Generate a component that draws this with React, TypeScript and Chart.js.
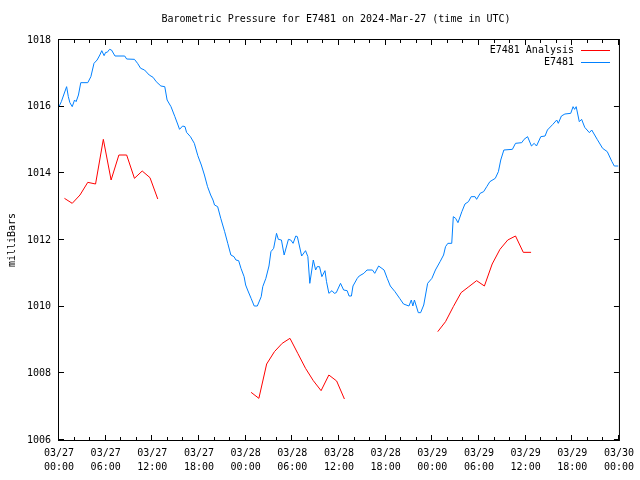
import React, { useEffect, useRef } from "react";
import { Chart, registerables } from "chart.js";

Chart.register(...registerables);

// ---------- text ----------
const TITLE = "Barometric Pressure for E7481 on 2024-Mar-27 (time in UTC)";
const Y_LABEL = "milliBars";
const ANALYSIS_LABEL = "E7481 Analysis";
const OBS_LABEL = "E7481";

// ---------- axes (x = hours since 2024-03-27 00:00 UTC) ----------
const X_TICK_HOURS = [0, 6, 12, 18, 24, 30, 36, 42, 48, 54, 60, 66, 72];
const X_TICK_DATES = ["03/27", "03/27", "03/27", "03/27", "03/28", "03/28", "03/28", "03/28", "03/29", "03/29", "03/29", "03/29", "03/30"];
const X_TICK_TIMES = ["00:00", "06:00", "12:00", "18:00", "00:00", "06:00", "12:00", "18:00", "00:00", "06:00", "12:00", "18:00", "00:00"];
const X_MINOR_STEP = 2;
const Y_TICKS = [1006, 1008, 1010, 1012, 1014, 1016, 1018];

// ---------- observed series E7481 ----------
const obsHours = [
  0.0, 0.3, 0.6, 0.98, 1.2, 1.4, 1.7, 2.0, 2.2, 2.5, 2.8, 3.7, 4.1, 4.5, 4.9, 5.25, 5.5, 5.8, 6.0, 6.2,
  6.5, 6.75, 7.2, 8.45, 8.7, 9.7, 10.1, 10.5, 11.0, 11.6, 12.1, 12.5, 13.1, 13.6, 13.9, 14.4, 14.9, 15.3, 15.5, 15.9,
  16.2, 16.4, 16.9, 17.4, 17.85, 18.3, 18.7, 19.1, 19.5, 19.8, 20.0, 20.4, 20.8, 21.3, 21.7, 22.1, 22.5, 22.75, 23.1, 23.4,
  23.8, 24.0, 24.25, 24.7, 25.1, 25.5, 26.0, 26.2, 26.6, 27.0, 27.25, 27.6, 27.97, 28.2, 28.6, 28.95, 29.5, 29.8, 30.1, 30.45,
  30.65, 31.2, 31.7, 32.0, 32.25, 32.7, 33.0, 33.2, 33.5, 33.8, 34.2, 34.4, 34.7, 35.1, 35.4, 35.65, 36.2, 36.6, 37.05, 37.3,
  37.6, 37.8, 38.35, 38.6, 39.2, 39.6, 40.3, 40.6, 41.1, 41.8, 42.2, 42.6, 43.2, 43.8, 44.3, 45.0, 45.3, 45.5, 45.7, 46.2,
  46.5, 46.9, 47.4, 47.95, 48.4, 49.0, 49.45, 49.7, 50.0, 50.5, 50.7, 51.0, 51.3, 51.8, 52.2, 52.65, 53.0, 53.5, 53.7, 54.15,
  54.6, 55.0, 55.4, 56.1, 56.5, 56.8, 57.2, 58.3, 58.7, 59.5, 59.8, 60.25, 60.75, 61.1, 61.4, 61.95, 62.5, 62.8, 63.5, 64.0,
  64.2, 64.6, 65.05, 65.8, 66.1, 66.3, 66.5, 66.9, 67.2, 67.6, 68.2, 68.5, 69.2, 69.9, 70.5, 71.1, 71.4, 71.9,
];
const obsValues = [
  1016.0, 1016.15, 1016.35, 1016.6, 1016.3, 1016.12, 1016.0, 1016.2, 1016.15, 1016.35, 1016.72, 1016.72, 1016.9, 1017.3, 1017.4, 1017.55, 1017.68, 1017.53, 1017.63, 1017.63,
  1017.72, 1017.7, 1017.52, 1017.52, 1017.43, 1017.42, 1017.3, 1017.15, 1017.1, 1016.95, 1016.88, 1016.75, 1016.62, 1016.6, 1016.2, 1016.0, 1015.7, 1015.45, 1015.32, 1015.42,
  1015.4, 1015.23, 1015.1, 1014.9, 1014.53, 1014.25, 1013.95, 1013.6, 1013.35, 1013.2, 1013.05, 1013.0, 1012.65, 1012.25, 1011.9, 1011.55, 1011.5, 1011.4, 1011.38, 1011.15,
  1010.9, 1010.65, 1010.5, 1010.25, 1010.02, 1010.02, 1010.3, 1010.6, 1010.85, 1011.22, 1011.65, 1011.75, 1012.2, 1012.02, 1012.0, 1011.55, 1012.02, 1012.0, 1011.9, 1012.12,
  1012.1, 1011.52, 1011.68, 1011.5, 1010.7, 1011.4, 1011.1, 1011.2, 1011.2, 1010.9, 1011.08, 1010.75, 1010.4, 1010.48, 1010.4, 1010.42, 1010.7, 1010.5, 1010.48, 1010.32,
  1010.32, 1010.62, 1010.85, 1010.92, 1011.0, 1011.1, 1011.1, 1011.0, 1011.22, 1011.1, 1010.85, 1010.62, 1010.45, 1010.25, 1010.08, 1010.02, 1010.2, 1010.02, 1010.2, 1009.82,
  1009.82, 1010.05, 1010.7, 1010.85, 1011.1, 1011.35, 1011.55, 1011.8, 1011.9, 1011.9, 1012.7, 1012.65, 1012.52, 1012.85, 1013.08, 1013.15, 1013.3, 1013.3, 1013.22, 1013.4,
  1013.45, 1013.6, 1013.75, 1013.85, 1014.05, 1014.4, 1014.7, 1014.72, 1014.9, 1014.92, 1015.02, 1015.1, 1014.82, 1014.9, 1014.82, 1015.1, 1015.12, 1015.3, 1015.47, 1015.6,
  1015.5, 1015.72, 1015.78, 1015.8, 1016.0, 1015.92, 1016.0, 1015.55, 1015.62, 1015.38, 1015.22, 1015.3, 1015.02, 1014.75, 1014.65, 1014.35, 1014.22, 1014.22,
];

// ---------- analysis series E7481 Analysis (null = gap) ----------
const anaHours = [
  0.7, 1.7, 2.7, 3.7, 4.7, 5.7, 6.7, 7.7, 8.7, 9.7, 10.7, 11.7, 12.7,
  18,
  24.7, 25.7, 26.7, 27.7, 28.7, 29.7, 30.7, 31.7, 32.7, 33.7, 34.7, 35.7, 36.7,
  42,
  48.7, 49.7, 50.7, 51.7, 52.7, 53.7, 54.7, 55.7, 56.7, 57.7, 58.7, 59.7, 60.7,
];
const anaValues: (number | null)[] = [
  1013.25, 1013.1, 1013.35, 1013.73, 1013.68, 1015.02, 1013.8, 1014.55, 1014.55, 1013.85, 1014.07, 1013.87, 1013.23,
  null,
  1007.43, 1007.25, 1008.28, 1008.65, 1008.9, 1009.05, 1008.6, 1008.15, 1007.78, 1007.48, 1007.95, 1007.77, 1007.23,
  null,
  1009.25, 1009.55, 1010.0, 1010.42, 1010.6, 1010.78, 1010.62, 1011.28, 1011.72, 1012.0, 1012.12, 1011.63, 1011.63,
];

const RED = "#ff0000";
const BLUE = "#0080ff";
const FONT = "'DejaVu Sans Mono', 'Liberation Mono', monospace";

const decorPlugin = {
  id: "decor",
  afterDraw(chart: any) {
    const { ctx, chartArea: a, scales } = chart;
    ctx.save();
    ctx.strokeStyle = "#000";
    ctx.lineWidth = 1;
    ctx.strokeRect(a.left - 0.5, a.top - 0.5, a.right - a.left + 1, a.bottom - a.top + 1);

    const xs = scales.x;
    ctx.beginPath();
    for (let h = X_TICK_HOURS[0]; h <= X_TICK_HOURS[X_TICK_HOURS.length - 1]; h += X_MINOR_STEP) {
      const px = Math.round(xs.getPixelForValue(h)) - 0.5;
      const len = X_TICK_HOURS.includes(h) ? 5 : 3;
      ctx.moveTo(px, a.bottom);
      ctx.lineTo(px, a.bottom - len);
      ctx.moveTo(px, a.top);
      ctx.lineTo(px, a.top + len);
    }
    const ys = scales.y;
    for (const v of Y_TICKS) {
      const py = Math.round(ys.getPixelForValue(v)) - 0.5;
      ctx.moveTo(a.left, py);
      ctx.lineTo(a.left + 5, py);
      ctx.moveTo(a.right, py);
      ctx.lineTo(a.right - 5, py);
    }
    ctx.stroke();

    // title
    ctx.fillStyle = "#000";
    ctx.font = `10px ${FONT}`;
    ctx.textAlign = "center";
    ctx.textBaseline = "middle";
    ctx.fillText(TITLE, 336, 19);

    // legend
    const ds = chart.data.datasets;
    ctx.textAlign = "right";
    ds.forEach((d: any, i: number) => {
      const y = 50 + i * 12;
      ctx.fillStyle = "#000";
      ctx.fillText(d.label, 574, y);
      ctx.strokeStyle = d.borderColor;
      ctx.beginPath();
      ctx.moveTo(581, Math.round(y) + 0.5);
      ctx.lineTo(610, Math.round(y) + 0.5);
      ctx.stroke();
    });
    ctx.restore();
  },
};

export default function App() {
  const ref = useRef<HTMLCanvasElement | null>(null);

  useEffect(() => {
    if (!ref.current) return;
    const chart = new Chart(ref.current, {
      type: "line",
      data: {
        datasets: [
          {
            label: ANALYSIS_LABEL,
            data: anaHours.map((h, i) => ({ x: h, y: anaValues[i] })) as any,
            borderColor: RED,
            borderWidth: 1,
            pointRadius: 0,
            tension: 0,
            spanGaps: false,
            fill: false,
          },
          {
            label: OBS_LABEL,
            data: obsHours.map((h, i) => ({ x: h, y: obsValues[i] })),
            borderColor: BLUE,
            borderWidth: 1,
            pointRadius: 0,
            tension: 0,
            fill: false,
          },
        ],
      },
      options: {
        animation: false,
        responsive: false,
        devicePixelRatio: 1,
        events: [],
        layout: { padding: { left: 0, right: 19, top: 40, bottom: 0 } },
        plugins: {
          legend: { display: false },
          title: { display: false },
          tooltip: { enabled: false },
        },
        scales: {
          x: {
            type: "linear",
            min: X_TICK_HOURS[0],
            max: X_TICK_HOURS[X_TICK_HOURS.length - 1],
            afterBuildTicks: (s: any) => {
              s.ticks = X_TICK_HOURS.map((v) => ({ value: v }));
            },
            afterFit: (s: any) => {
              s.height = 40;
            },
            ticks: {
              autoSkip: false,
              maxRotation: 0,
              minRotation: 0,
              padding: 6,
              color: "#000",
              font: { family: FONT, size: 10, lineHeight: 1.4 },
              callback: (_v: any, i: number) => [X_TICK_DATES[i], X_TICK_TIMES[i]],
            },
            grid: { display: false, drawTicks: false, tickLength: 0 },
            border: { display: false },
          },
          y: {
            type: "linear",
            min: Y_TICKS[0],
            max: Y_TICKS[Y_TICKS.length - 1],
            afterBuildTicks: (s: any) => {
              s.ticks = Y_TICKS.map((v) => ({ value: v }));
            },
            afterFit: (s: any) => {
              s.width = 59;
            },
            ticks: {
              padding: 8,
              color: "#000",
              font: { family: FONT, size: 10 },
              callback: (v: any) => String(v),
            },
            title: {
              display: true,
              text: Y_LABEL,
              color: "#000",
              font: { family: FONT, size: 10 },
              padding: { top: 6, bottom: 0 },
            },
            grid: { display: false, drawTicks: false, tickLength: 0 },
            border: { display: false },
          },
        },
      },
      plugins: [decorPlugin],
    });
    return () => chart.destroy();
  }, []);

  return (
    <div style={{ position: "fixed", left: 0, top: 0, width: 640, height: 480, background: "#fff" }}>
      <canvas ref={ref} width={640} height={480} style={{ width: 640, height: 480, display: "block" }} />
    </div>
  );
}
